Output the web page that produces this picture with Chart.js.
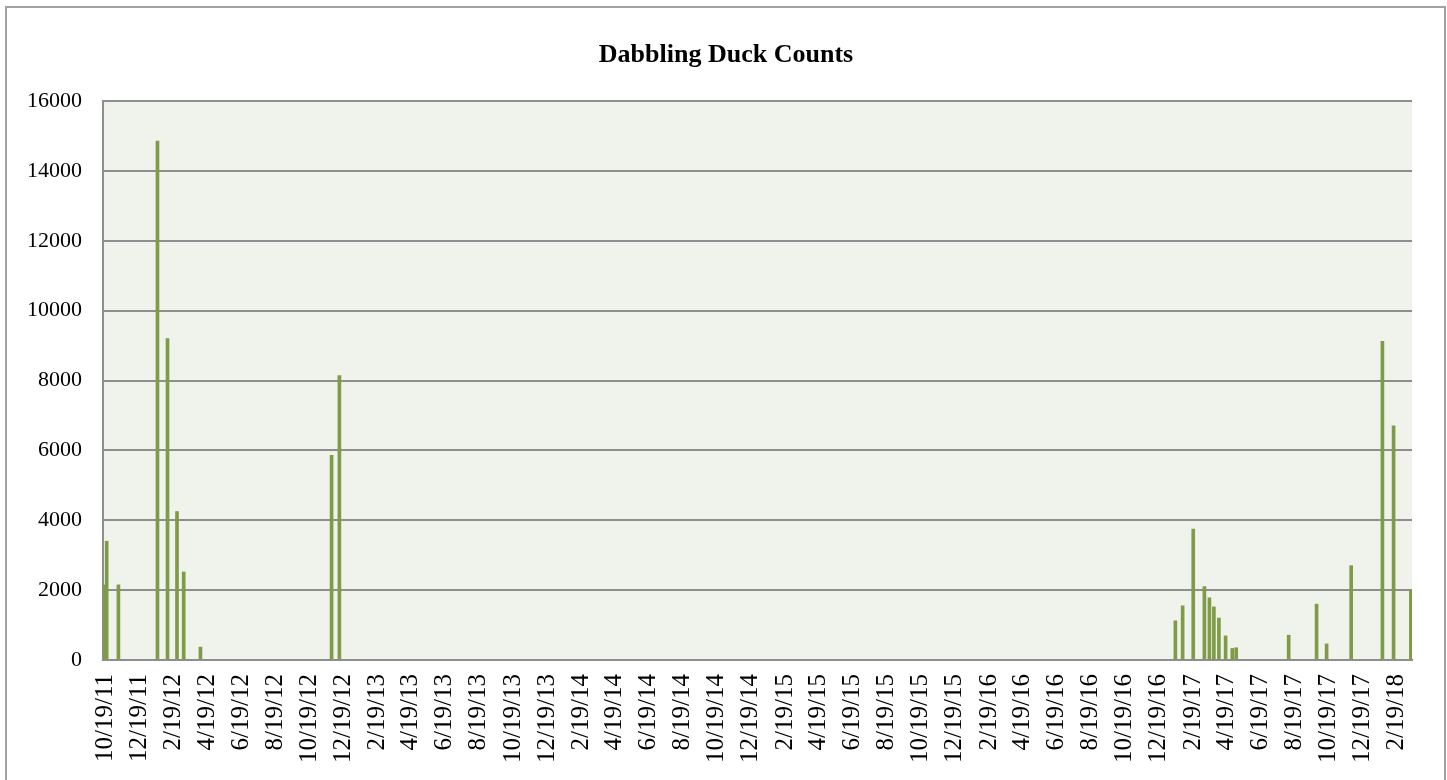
<!DOCTYPE html>
<html lang="en">

<head>
    <script src="https://cdn.jsdelivr.net/npm/chart.js"></script>
    <meta charset="UTF-8">
    <title>Dabbling Duck Counts</title>
    <style>
        body {
            margin: 0;
            padding: 0;
            background-color: #ffffff;
            overflow: hidden;
        }

        .frame {
            position: absolute;
            left: 5px;
            top: 6px;
            width: 1437px;
            height: 820px;
            border: 2px solid #a2a2a2;
        }

        #duckChart {
            position: absolute;
            left: 0;
            top: 0;
        }
    </style>
</head>

<body>
    <div class="frame"></div>
    <canvas id="duckChart" width="1447" height="780"></canvas>

    <script>
        // survey dates and dabbling duck counts
        const surveyDates = ['2011-10-18', '2011-10-22', '2011-11-12', '2012-01-21', '2012-02-08', '2012-02-25',
            '2012-03-08', '2012-04-07', '2012-11-28', '2012-12-12', '2017-01-18', '2017-01-31', '2017-02-19',
            '2017-03-11', '2017-03-20', '2017-03-28', '2017-04-06', '2017-04-18', '2017-04-30', '2017-05-07',
            '2017-08-09', '2017-09-28', '2017-10-16', '2017-11-29', '2018-01-24', '2018-02-13', '2018-03-16'];
        const duckCounts = [2150, 3400, 2150, 14850, 9200, 4250,
            2520, 370, 5860, 8140, 1120, 1550, 3750,
            2100, 1780, 1520, 1200, 690, 330, 350,
            710, 1600, 460, 2700, 9120, 6700, 2020];

        // date axis labels (every two months)
        const tickLabels = ['10/19/11', '12/19/11', '2/19/12', '4/19/12', '6/19/12', '8/19/12', '10/19/12',
            '12/19/12', '2/19/13', '4/19/13', '6/19/13', '8/19/13', '10/19/13', '12/19/13', '2/19/14',
            '4/19/14', '6/19/14', '8/19/14', '10/19/14', '12/19/14', '2/19/15', '4/19/15', '6/19/15',
            '8/19/15', '10/19/15', '12/19/15', '2/19/16', '4/19/16', '6/19/16', '8/19/16', '10/19/16',
            '12/19/16', '2/19/17', '4/19/17', '6/19/17', '8/19/17', '10/19/17', '12/19/17', '2/19/18'];
        const yTicks = [0, 2000, 4000, 6000, 8000, 10000, 12000, 14000, 16000];
        const chartTitle = 'Dabbling Duck Counts';

        // days counted from the first axis label
        const origin = Date.UTC(2011, 9, 19);
        function isoToDay(s) {
            const p = s.split('-').map(Number);
            return (Date.UTC(p[0], p[1] - 1, p[2]) - origin) / 864e5;
        }
        function labelToDay(s) {
            const p = s.split('/').map(Number);
            return (Date.UTC(2000 + p[2], p[0] - 1, p[1]) - origin) / 864e5;
        }
        const tickDays = tickLabels.map(labelToDay);

        const points = surveyDates.map((d, i) => ({ x: isoToDay(d), y: duckCounts[i] }));

        const serif = "'Liberation Serif', 'Times New Roman', serif";
        const gridGrey = '#8e8e8e';

        // plot area fill + title drawn over the whole frame
        const plotBackground = {
            id: 'plotBackground',
            beforeDraw(chart) {
                const a = chart.chartArea;
                const ctx = chart.ctx;
                ctx.save();
                ctx.fillStyle = '#f0f3ec';
                ctx.fillRect(a.left, a.top, a.right - a.left, a.bottom - a.top);
                ctx.fillStyle = '#000';
                ctx.font = 'bold 26px ' + serif;
                ctx.textAlign = 'center';
                ctx.textBaseline = 'middle';
                ctx.fillText(chartTitle, 726, 55);
                ctx.restore();
            }
        };

        const ctx = document.getElementById('duckChart').getContext('2d');
        new Chart(ctx, {
            type: 'bar',
            data: {
                datasets: [{
                    label: 'Dabbling Ducks',
                    data: points,
                    backgroundColor: '#7f9b48',
                    borderWidth: 0,
                    barThickness: 3
                }]
            },
            options: {
                responsive: false,
                animation: false,
                devicePixelRatio: 1,
                layout: { padding: { left: 0, right: 35, top: 101, bottom: 0 } },
                plugins: {
                    legend: { display: false },
                    tooltip: { enabled: false },
                    title: { display: false }
                },
                scales: {
                    x: {
                        type: 'linear',
                        offset: false,
                        min: -3.6,
                        max: 2342,
                        grid: { display: false, drawTicks: false },
                        border: { display: true, color: gridGrey, width: 2 },
                        afterBuildTicks(scale) {
                            scale.ticks = tickDays.map(v => ({ value: v }));
                        },
                        afterFit(scale) {
                            scale.height = 120;
                        },
                        ticks: {
                            autoSkip: false,
                            minRotation: 90,
                            maxRotation: 90,
                            padding: 14,
                            color: '#000',
                            font: { family: serif, size: 25 },
                            callback: (value, index) => tickLabels[index]
                        }
                    },
                    y: {
                        min: 0,
                        max: 16000,
                        afterBuildTicks(scale) {
                            scale.ticks = yTicks.map(v => ({ value: v }));
                        },
                        afterFit(scale) {
                            scale.width = 103;
                        },
                        grid: { color: gridGrey, lineWidth: 2, drawTicks: false },
                        border: { display: true, color: gridGrey, width: 2 },
                        ticks: {
                            padding: 21,
                            color: '#000',
                            font: { family: serif, size: 22 },
                            callback: value => String(value)
                        }
                    }
                }
            },
            plugins: [plotBackground]
        });
    </script>

</body>

</html>
